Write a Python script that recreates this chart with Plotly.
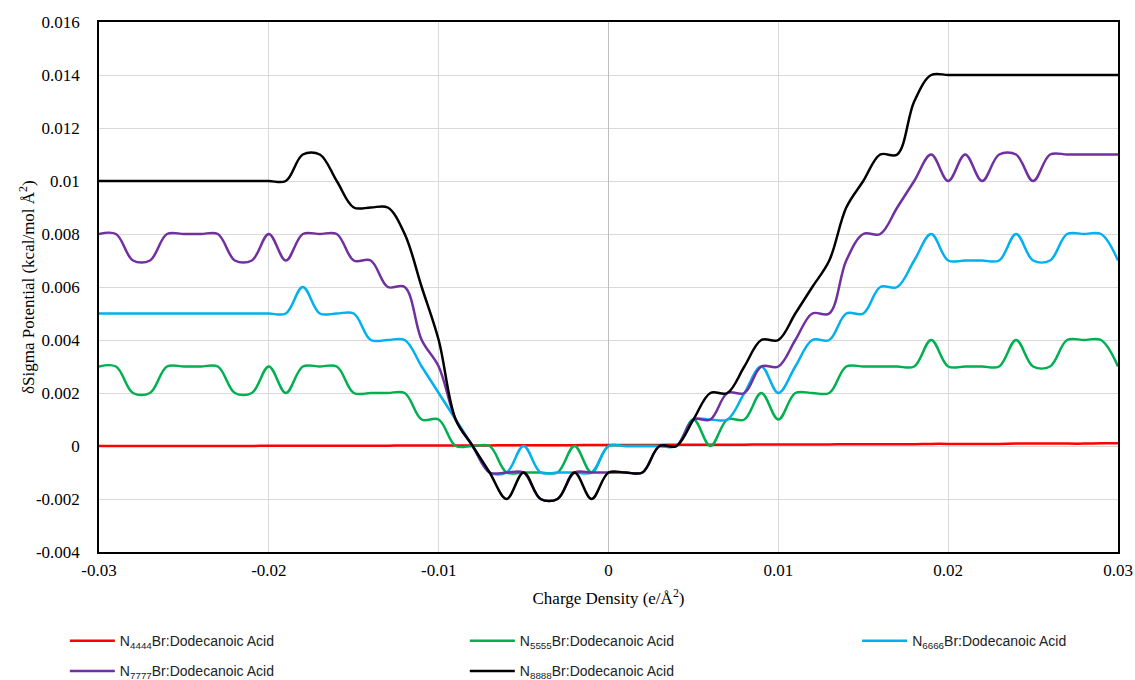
import plotly.graph_objects as go

charge = [round(-0.030 + 0.001 * i, 3) for i in range(61)]

n4444 = [0.00000, 0.00000, 0.00000, 0.00000, 0.00000, 0.00000, 0.00000, 0.00000, 0.00000, 0.00000,
         0.00001, 0.00001, 0.00001, 0.00001, 0.00001, 0.00001, 0.00001, 0.00001, 0.00002, 0.00002,
         0.00002, 0.00002, 0.00002, 0.00002, 0.00003, 0.00003, 0.00003, 0.00003, 0.00003, 0.00004,
         0.00004, 0.00004, 0.00004, 0.00004, 0.00005, 0.00005, 0.00005, 0.00005, 0.00005, 0.00006,
         0.00006, 0.00006, 0.00006, 0.00006, 0.00007, 0.00007, 0.00007, 0.00007, 0.00007, 0.00008,
         0.00008, 0.00008, 0.00008, 0.00008, 0.00009, 0.00009, 0.00009, 0.00009, 0.00009, 0.00010,
         0.00010]

n5555 = [0.003, 0.003, 0.002, 0.002, 0.003, 0.003, 0.003, 0.003, 0.002, 0.002,
         0.003, 0.002, 0.003, 0.003, 0.003, 0.002, 0.002, 0.002, 0.002, 0.001,
         0.001, 0.000, 0.000, 0.000, -0.001, -0.001, -0.001, -0.001, 0.000, -0.001,
         0.000, 0.000, 0.000, 0.000, 0.000, 0.001, 0.000, 0.001, 0.001, 0.002,
         0.001, 0.002, 0.002, 0.002, 0.003, 0.003, 0.003, 0.003, 0.003, 0.004,
         0.003, 0.003, 0.003, 0.003, 0.004, 0.003, 0.003, 0.004, 0.004, 0.004,
         0.003]

n6666 = [0.005, 0.005, 0.005, 0.005, 0.005, 0.005, 0.005, 0.005, 0.005, 0.005,
         0.005, 0.005, 0.006, 0.005, 0.005, 0.005, 0.004, 0.004, 0.004, 0.003,
         0.002, 0.001, 0.000, -0.001, -0.001, 0.000, -0.001, -0.001, -0.001, -0.001,
         0.000, 0.000, 0.000, 0.000, 0.000, 0.001, 0.001, 0.001, 0.002, 0.003,
         0.002, 0.003, 0.004, 0.004, 0.005, 0.005, 0.006, 0.006, 0.007, 0.008,
         0.007, 0.007, 0.007, 0.007, 0.008, 0.007, 0.007, 0.008, 0.008, 0.008,
         0.007]

n7777 = [0.008, 0.008, 0.007, 0.007, 0.008, 0.008, 0.008, 0.008, 0.007, 0.007,
         0.008, 0.007, 0.008, 0.008, 0.008, 0.007, 0.007, 0.006, 0.006, 0.004,
         0.003, 0.001, 0.000, -0.001, -0.001, -0.001, -0.002, -0.002, -0.001, -0.001,
         -0.001, -0.001, -0.001, 0.000, 0.000, 0.001, 0.001, 0.002, 0.002, 0.003,
         0.003, 0.004, 0.005, 0.005, 0.007, 0.008, 0.008, 0.009, 0.010, 0.011,
         0.010, 0.011, 0.010, 0.011, 0.011, 0.010, 0.011, 0.011, 0.011, 0.011,
         0.011]

n8888 = [0.010, 0.010, 0.010, 0.010, 0.010, 0.010, 0.010, 0.010, 0.010, 0.010,
         0.010, 0.010, 0.011, 0.011, 0.010, 0.009, 0.009, 0.009, 0.008, 0.006,
         0.004, 0.001, 0.000, -0.001, -0.002, -0.001, -0.002, -0.002, -0.001, -0.002,
         -0.001, -0.001, -0.001, 0.000, 0.000, 0.001, 0.002, 0.002, 0.003, 0.004,
         0.004, 0.005, 0.006, 0.007, 0.009, 0.010, 0.011, 0.011, 0.013, 0.014,
         0.014, 0.014, 0.014, 0.014, 0.014, 0.014, 0.014, 0.014, 0.014, 0.014,
         0.014]

series_names = ["N<sub>4444</sub>Br:Dodecanoic Acid", "N<sub>5555</sub>Br:Dodecanoic Acid",
                "N<sub>6666</sub>Br:Dodecanoic Acid", "N<sub>7777</sub>Br:Dodecanoic Acid",
                "N<sub>8888</sub>Br:Dodecanoic Acid"]
series_colors = ["#FF0000", "#00B050", "#00B0F0", "#7030A0", "#000000"]
series_values = [n4444, n5555, n6666, n7777, n8888]
series_legend = ["legend", "legend2", "legend3", "legend", "legend2"]

x_ticks = [-0.03, -0.02, -0.01, 0, 0.01, 0.02, 0.03]
x_tick_text = ["-0.03", "-0.02", "-0.01", "0", "0.01", "0.02", "0.03"]
y_ticks = [-0.004, -0.002, 0, 0.002, 0.004, 0.006, 0.008, 0.010, 0.012, 0.014, 0.016]
y_tick_text = ["-0.004", "-0.002", "0", "0.002", "0.004", "0.006", "0.008", "0.01", "0.012", "0.014", "0.016"]

fig = go.Figure()
for i, (name, color, vals, lg) in enumerate(zip(series_names, series_colors, series_values, series_legend)):
    fig.add_trace(go.Scatter(x=charge, y=vals, mode="lines", name=name, legend=lg,
                             legendgroup="g%d" % i,
                             line=dict(color=color, width=2.5, shape="spline", smoothing=1.0)))

serif = "Liberation Serif"
sans = "Liberation Sans"
leg_common = dict(orientation="v", yanchor="top", xanchor="left", y=-0.138,
                  font=dict(family=sans, size=14, color="#222"), tracegroupgap=9,
                  itemwidth=45, bgcolor="rgba(0,0,0,0)")
fig.update_layout(
    width=1135, height=680,
    paper_bgcolor="white", plot_bgcolor="white",
    margin=dict(l=99, r=17, t=22, b=128, autoexpand=False),
    font=dict(family=serif, color="black", size=16),
    legend=dict(x=-0.0335, **leg_common),
    legend2=dict(x=0.359, **leg_common),
    legend3=dict(x=0.744, **leg_common),
    showlegend=True,
    annotations=[dict(text="δSigma Potential (kcal/mol Å<sup>2</sup>)", textangle=-90,
                      xref="paper", yref="paper", x=-0.0707, y=0.5, xanchor="center", yanchor="middle",
                      showarrow=False, font=dict(family=serif, size=17, color="black"))],
)
fig.update_xaxes(range=[-0.03, 0.03], tickvals=x_ticks, ticktext=x_tick_text,
                 showgrid=True, gridcolor="#D9D9D9", gridwidth=1,
                 zeroline=True, zerolinecolor="#BFBFBF", zerolinewidth=1,
                 showline=True, linecolor="black", linewidth=1.5, mirror=True,
                 ticks="", ticklabelstandoff=2, automargin=False,
                 tickfont=dict(family=serif, size=17, color="black"),
                 title=dict(text="Charge Density (e/Å<sup>2</sup>)", font=dict(family=serif, size=17, color="black"), standoff=13))
fig.update_yaxes(range=[-0.004, 0.016], tickvals=y_ticks, ticktext=y_tick_text,
                 showgrid=True, gridcolor="#D9D9D9", gridwidth=1,
                 zeroline=False,
                 showline=True, linecolor="black", linewidth=1.5, mirror=True,
                 ticks="", ticklabelstandoff=14, automargin=False,
                 tickfont=dict(family=serif, size=17, color="black"))

fig.write_html("out.html", config={"displayModeBar": False},
               post_script="document.body.style.margin='0px';")
